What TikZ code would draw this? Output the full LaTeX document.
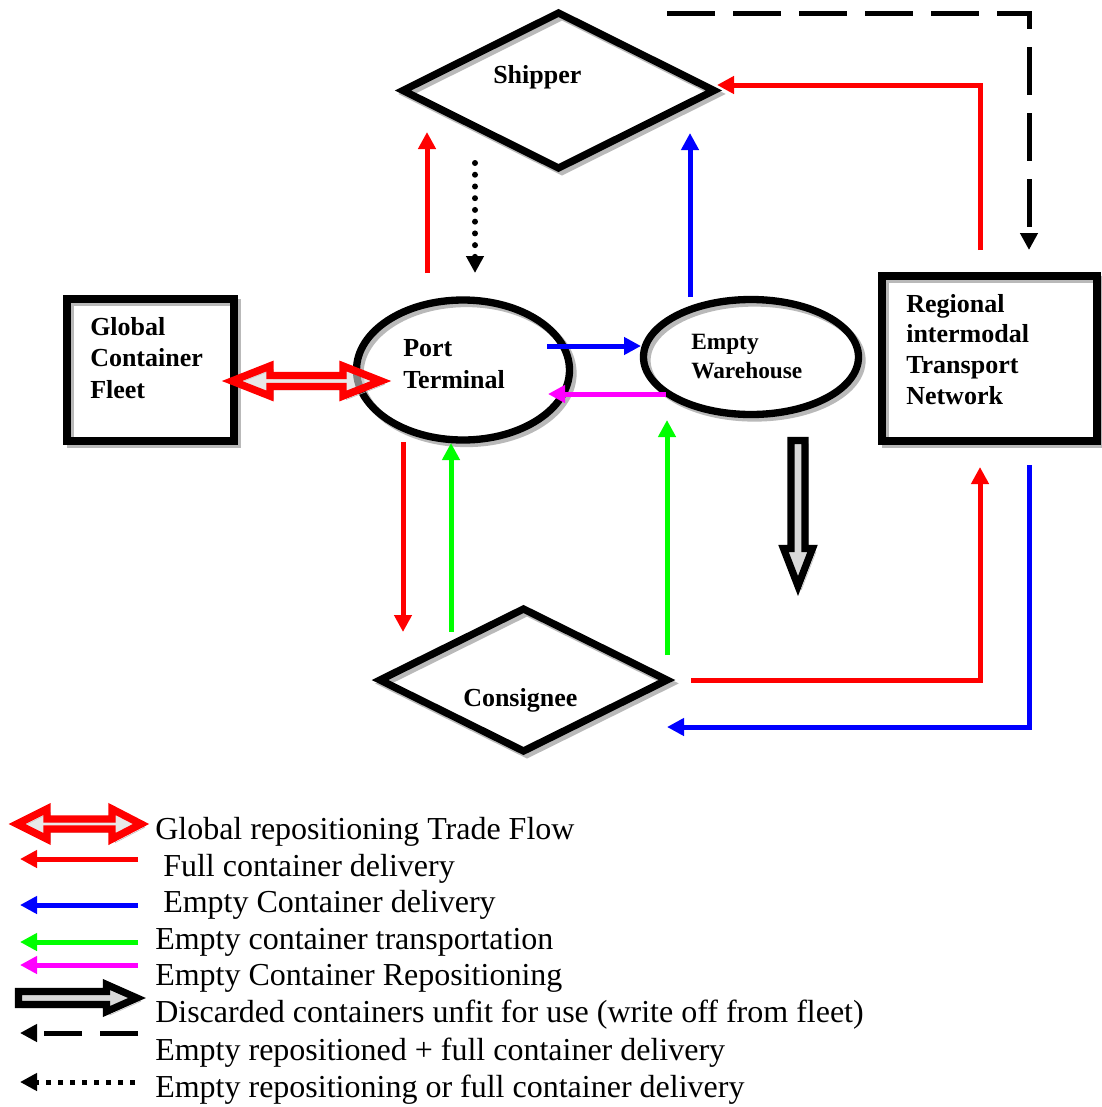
\documentclass[tikz,border=0pt]{standalone}
\usepackage{fontspec}
\setmainfont{Liberation Serif}
\usetikzlibrary{arrows.meta,shapes.geometric}
\definecolor{fred}{RGB}{255,0,0}
\definecolor{fblue}{RGB}{0,0,255}
\definecolor{fgreen}{RGB}{0,255,0}
\definecolor{fmag}{RGB}{255,0,255}
\definecolor{shade}{RGB}{185,185,185}
\begin{document}
\begin{tikzpicture}[x=0.75pt,y=-0.75pt,
  shadowed/.style={preaction={draw=shade, transform canvas={xshift=2.6pt,yshift=-2.6pt}}},
  frame/.style={draw=black, line width=5.5pt, shadowed, inner sep=0pt, outer sep=0pt},
  lab/.style={font=\fontsize{19.5}{23.6}\selectfont\bfseries, align=left, inner sep=0pt, anchor=base west},
  leg/.style={font=\fontsize{24}{29}\selectfont, inner sep=0pt, anchor=base west},
  tip/.style={-{Triangle[length=12.75pt,width=12.75pt]}},
  arr/.style={line width=3.75pt, tip},
  dashline/.style={line width=3.75pt, dash pattern=on 36pt off 13.5pt, tip},
  dotline/.style={line width=4.5pt, line cap=round, dash pattern=on 0pt off 8.8pt, tip},
  hollowred/.style={draw=fred, line width=5.6pt, fill=gray!30, fill opacity=0.6, shadowed},
  hollowblack/.style={draw=black, line width=5.4pt, fill=gray!30, shadowed}
]
\useasboundingbox (0,0) rectangle (1102,1107);

% ---------- shapes ----------
\node[frame, diamond, minimum width=233.25pt, minimum height=116.25pt] (ship) at (558.5,90.5) {};
\node[frame, diamond, minimum width=215.25pt, minimum height=106.5pt] (cons) at (523.5,680) {};
\node[frame, ellipse, minimum width=159.75pt, minimum height=105pt] (port) at (463,370) {};
\node[frame, ellipse, minimum width=161.25pt, minimum height=86.25pt] (wh) at (751,357) {};
\node[frame, rectangle, minimum width=125.25pt, minimum height=106.5pt] (glob) at (150.5,370) {};
\node[frame, rectangle, minimum width=161.25pt, minimum height=123.75pt] (reg) at (989.5,358.5) {};

% ---------- labels (anchor = baseline of the last line) ----------
\node[lab] (shipT) at (493,83) {Shipper};
\node[lab] (consT) at (463,706) {Consignee};
\node[lab, font=\fontsize{19.5}{24}\selectfont\bfseries] (portT) at (403,388) {Port\\Terminal};
\node[lab, font=\fontsize{17.5}{21.4}\selectfont\bfseries] (whT) at (691,378) {Empty\\Warehouse};
\node[lab] (globT) at (90,398) {Global\\Container\\Fleet};
\node[lab, font=\fontsize{19.5}{22.9}\selectfont\bfseries] (regT) at (906,404) {Regional\\intermodal\\Transport\\Network};

% ---------- connector end points ----------
\coordinate (p1) at (427,273);  \coordinate (s1) at (427,132);
\coordinate (s2) at (475,163);  \coordinate (p2) at (475,273);
\coordinate (w1) at (690,297);  \coordinate (s3) at (690,133);
\coordinate (r1) at (980,250);  \coordinate (r1c) at (980,85);  \coordinate (s4) at (717,85);
\coordinate (d0) at (667,13);   \coordinate (d0c) at (1029,13); \coordinate (r2) at (1029,250);
\coordinate (p3) at (547,346);  \coordinate (w2) at (641,346);
\coordinate (w3) at (666,394);  \coordinate (p4) at (548,394);
\coordinate (p5) at (403,442);  \coordinate (c1) at (403,632);
\coordinate (c2) at (451,632);  \coordinate (p6) at (451,443);
\coordinate (c3) at (667,655);  \coordinate (w4) at (667,420);
\coordinate (c4) at (691,680);  \coordinate (c4c) at (980,680); \coordinate (r3) at (980,467);
\coordinate (r4) at (1029,465); \coordinate (r4c) at (1029,727); \coordinate (c5) at (667,727);

% ---------- connectors ----------
\draw[arr, fred] (p1) -- (s1);
\draw[dotline] (s2) -- (p2);
\draw[arr, fblue] (w1) -- (s3);
\draw[arr, fred] (r1) -- (r1c) -- (s4);
\draw[dashline] (d0) -- (d0c) -- (r2);
\draw[arr, fblue] (p3) -- (w2);
\draw[arr, fmag] (w3) -- (p4);
\draw[arr, fred] (p5) -- (c1);
\draw[arr, fgreen] (c2) -- (p6);
\draw[arr, fgreen] (c3) -- (w4);
\draw[arr, fred] (c4) -- (c4c) -- (r3);
\draw[arr, fblue] (r4) -- (r4c) -- (c5);

% global repositioning double arrow (fleet <-> port)
\draw[hollowred] (232,381) -- (270,366) -- (270,375.5) -- (343,375.5) -- (343,366) -- (381,381)
  -- (343,396) -- (343,386.5) -- (270,386.5) -- (270,396) -- cycle;

% discarded containers (hollow black arrow)
\draw[hollowblack] (791,440.5) -- (805,440.5) -- (805,548.5) -- (812.5,548.5) -- (798,586)
  -- (783.5,548.5) -- (791,548.5) -- cycle;

% ---------- legend ----------
\draw[hollowred] (17,824) -- (47,809) -- (47,819) -- (112,819) -- (112,809) -- (141,824)
  -- (112,839) -- (112,829) -- (47,829) -- (47,839) -- cycle;
\node[leg] (l1) at (155,839) {Global repositioning Trade Flow};

\coordinate (lr1) at (138,859); \coordinate (lr0) at (20,859);
\draw[arr, fred] (lr1) -- (lr0);
\node[leg] (l2) at (163,876) {Full container delivery};

\coordinate (lb1) at (138,905); \coordinate (lb0) at (20,905);
\draw[arr, fblue] (lb1) -- (lb0);
\node[leg] (l3) at (163,912) {Empty Container delivery};

\coordinate (lg1) at (138,942); \coordinate (lg0) at (20,942);
\draw[arr, fgreen] (lg1) -- (lg0);
\node[leg] (l4) at (155,949) {Empty container transportation};

\coordinate (lm1) at (138,965); \coordinate (lm0) at (20,965);
\draw[arr, fmag] (lm1) -- (lm0);
\node[leg] (l5) at (155,985) {Empty Container Repositioning};

\draw[hollowblack] (18.5,991.5) -- (106.5,991.5) -- (106.5,984.5) -- (137,998) -- (106.5,1011.5)
  -- (106.5,1004.5) -- (18.5,1004.5) -- cycle;
\node[leg] (l6) at (155,1022) {Discarded containers unfit for use (write off from fleet)};

\coordinate (ld1) at (138,1033); \coordinate (ld0) at (20,1033);
\draw[line width=3.75pt, dash pattern=on 28.5pt off 13.5pt, tip] (ld1) -- (ld0);
\node[leg] (l7) at (155,1060) {Empty repositioned + full container delivery};

\coordinate (lt1) at (135,1082); \coordinate (lt0) at (20,1082);
\draw[line width=3.75pt, dash pattern=on 3.75pt off 5.25pt, tip] (lt1) -- (lt0);
\node[leg] (l8) at (155,1097) {Empty repositioning or full container delivery};
\end{tikzpicture}
\end{document}
